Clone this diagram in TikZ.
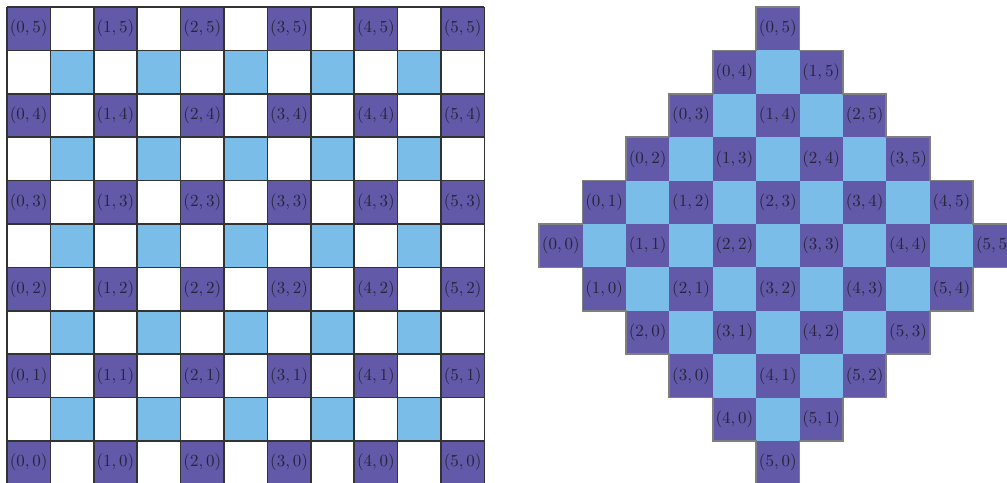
\documentclass[tikz,border=0pt]{standalone}
\usepackage{amsmath,amssymb}
\usepackage{xcolor}
\usepackage{tikz}
\usetikzlibrary{positioning,calc}
\definecolor{GridPurple}{HTML}{6259A8}
\definecolor{GridSky}{HTML}{79BDE8}
\definecolor{GridLine}{HTML}{333333}
\definecolor{GridEdge}{HTML}{7F7F7F}
\definecolor{GridText}{HTML}{26253A}

\begin{document}
\begin{tikzpicture}[
    x=0.9cm, y=0.9cm,
    pcell/.style={fill=GridPurple, text=GridText, minimum size=0.9cm, inner sep=0pt, outer sep=0pt},
    scell/.style={fill=GridSky, minimum size=0.9cm, inner sep=0pt, outer sep=0pt},
    gline/.style={draw=GridLine, line width=1pt},
    dedge/.style={draw=GridEdge, line width=1pt},
  ]
    \clip (-0.16,0.055) rectangle (23.04,11.16);

    % ---- 左: 方格 ----
    \foreach \i in {0,...,5} {
      \foreach \j in {0,...,5} {
        \node[pcell] (L-\i-\j) at (2*\i+0.5, 2*\j+0.5) {$(\i,\j)$};
      }
    }
    \foreach \i in {0,...,4} {
      \foreach \j in {0,...,4} {
        \node[scell] (S-\i-\j) at (2*\i+1.5, 2*\j+1.5) {};
      }
    }
    \foreach \k in {0,...,11} {
      \draw[gline] (\k,0) -- (\k,11);
      \draw[gline] (0,\k) -- (11,\k);
    }

    % ---- 右: 菱形 ----
    \def\dx{12.26}
    \foreach \r in {-5,...,5} {
      \pgfmathtruncatemacro{\ar}{abs(\r)}
      \pgfmathtruncatemacro{\cmax}{10-\ar}
      \foreach \c in {\ar,...,\cmax} {
        \pgfmathtruncatemacro{\odd}{mod(\c+\r+20,2)}
        \ifnum\odd=1
          \node[scell] (D-\c-\r) at (\dx+\c+0.5, 5.5+\r) {};
        \fi
      }
    }
    \foreach \i in {0,...,5} {
      \foreach \j in {0,...,5} {
        \node[pcell] (R-\i-\j) at (\dx+\i+\j+0.5, 5.5+\j-\i) {$(\i,\j)$};
      }
    }
    \draw[dedge] (\dx+5,11)
      \foreach \k in {1,...,6} { -- ++(1,0) -- ++(0,-1) }
      \foreach \k in {1,...,5} { -- ++(-1,0) -- ++(0,-1) }
      -- ++(-1,0)
      \foreach \k in {1,...,5} { -- ++(0,1) -- ++(-1,0) }
      -- ++(0,1)
      \foreach \k in {1,...,5} { -- ++(1,0) -- ++(0,1) }
      -- cycle;
  \end{tikzpicture}
\end{document}
